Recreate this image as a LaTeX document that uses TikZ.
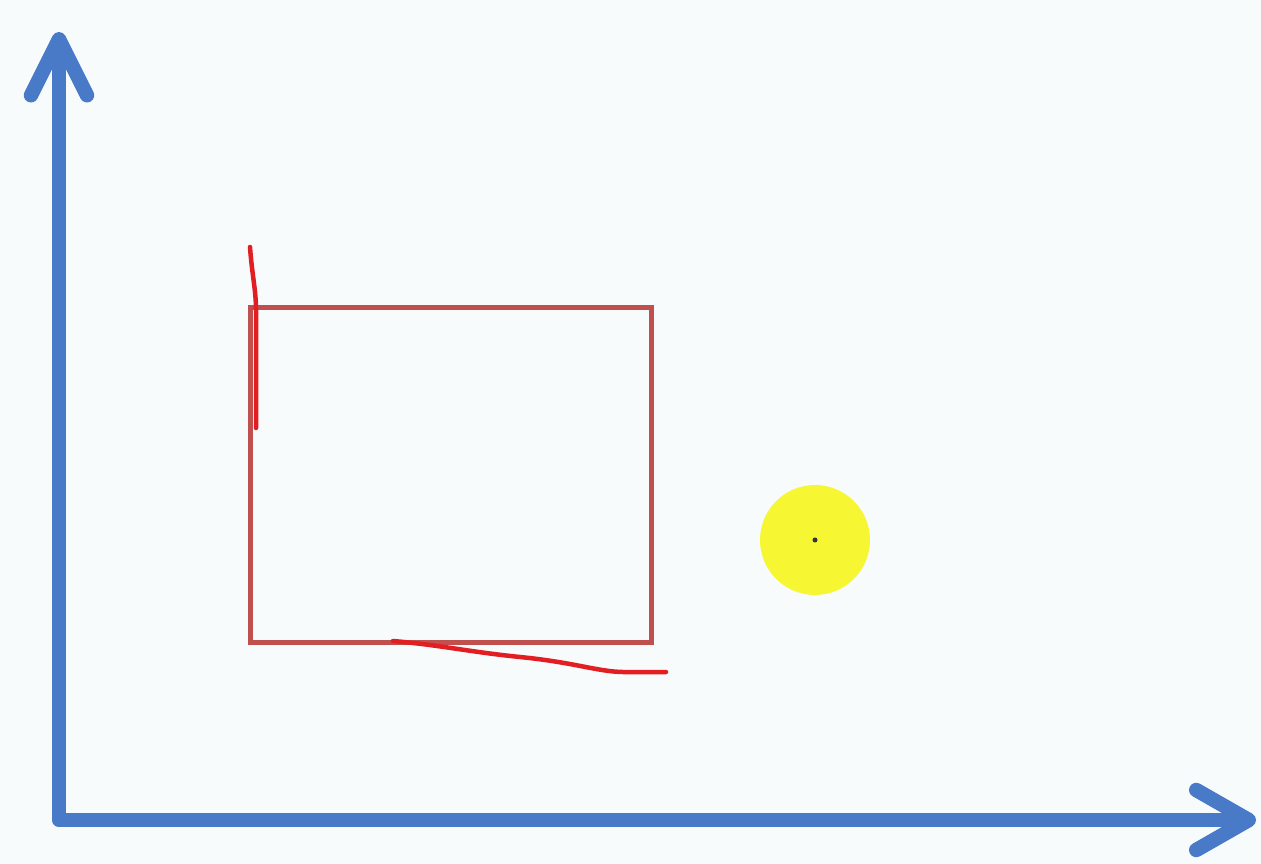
\documentclass[tikz,border=0pt]{standalone}
\usetikzlibrary{arrows.meta}
\definecolor{cAxis}{RGB}{72,122,200}
\definecolor{cBox}{RGB}{192,80,77}
\definecolor{cPen}{RGB}{226,30,34}
\definecolor{cSun}{RGB}{246,246,50}
\definecolor{cPaper}{RGB}{247,251,252}
\begin{document}
\begin{tikzpicture}[
  x=0.02cm, y=-0.02cm,
  axis/.style={draw=cAxis, line width=0.29cm, line join=round,
               {Straight Barb[length=1.12cm, width=1.12cm, line cap=round,
                line join=round]}-{Straight Barb[length=1.05cm, width=1.2cm,
                line cap=round, line join=round]}},
  frame/.style={draw=cBox, line width=0.1cm, inner sep=0pt,
                minimum width=8.04cm, minimum height=6.72cm},
  pen/.style={draw=cPen, line width=0.09cm, line cap=round, line join=round},
]
% paper, fixes the page size
\fill[cPaper] (0,0) rectangle (1261,864);
\useasboundingbox (0,0) rectangle (1261,864);

% axes
\coordinate (origin) at (59,820);
\coordinate (ytip) at (59,32);
\coordinate (xtip) at (1256,820);
\draw[axis] (ytip) -- (origin) -- (xtip);

% the box
\node[frame] (box) at (451,475) {};

% hand strokes over the box
\draw[pen] (250,247) .. controls (252,275) and (256,290) .. (256,310)
  -- (256,428);
\draw[pen] (393,641) .. controls (440,645) and (470,652) .. (520,657)
  .. controls (580,663) and (600,673) .. (630,672) -- (666,672);

% the point
\node[circle, fill=cSun, minimum size=2.2cm, inner sep=0pt] (sun) at (815,540) {};
\fill[black!80] (sun.center) circle (0.05cm);
\end{tikzpicture}
\end{document}
